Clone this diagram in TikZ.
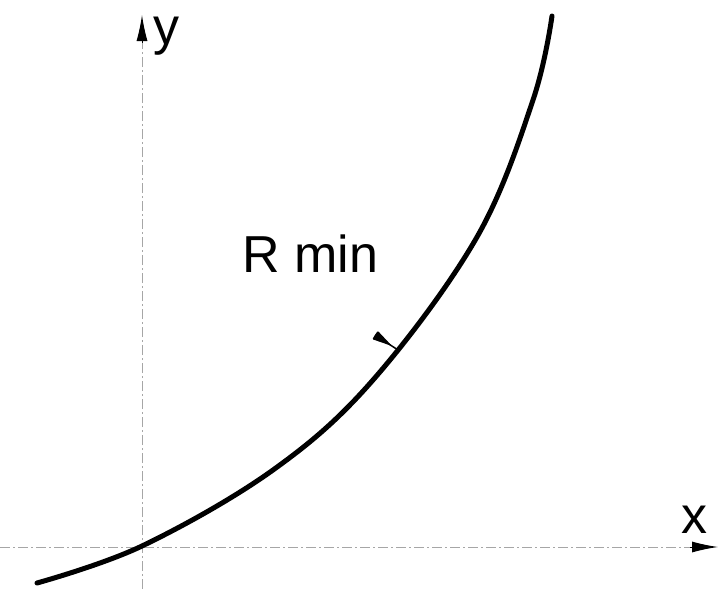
\documentclass[tikz,border=0pt]{standalone}
\usepackage{fontspec}
\setmainfont{Liberation Sans}
\usetikzlibrary{arrows.meta}
\begin{document}
\begin{tikzpicture}[x=1pt,y=-1pt,
  axisline/.style={gray!70, line width=1pt, dash pattern=on 10pt off 3pt on 2pt off 3pt},
  axisarrow/.style={-{Latex[length=26pt,width=11pt]}, black, line width=1pt},
  curveline/.style={black, line width=5pt, line cap=round, line join=round},
  lbl/.style={font=\fontsize{52}{52}\selectfont, inner sep=0pt}]
\useasboundingbox (0,0) rectangle (718,589);
\fill[white] (0,0) rectangle (718,589);
% axes
\coordinate (xs) at (0,547);
\coordinate (xe) at (690,547);
\coordinate (xt) at (718,547);
\coordinate (ys) at (142,589);
\coordinate (ye) at (142,43);
\coordinate (yt) at (142,15);
\draw[axisline] (xs) -- (xe);
\draw[axisline] (ys) -- (ye);
\draw[axisarrow] (xe) -- (xt);
\draw[axisarrow] (ye) -- (yt);
% curve
\draw[curveline] plot[smooth, tension=0.6] coordinates {(37,583) (142,546) (273,470) (373,380) (477,237) (533,100) (552,16)};
% labels
\node[lbl, anchor=base west] (xl) at (681,533) {x};
\node[lbl, anchor=base west] (yl) at (153,44) {y};
\node[lbl, anchor=base west] (rl) at (242,272) {R min};
% leader
\coordinate (lb) at (375,335);
\coordinate (lt) at (392,346);
\coordinate (lc) at (398,350);
\fill[black, rounded corners=1pt] (372.3,339.2) -- (377.7,330.8) -- (lt) -- cycle;
\draw[black, line width=1.5pt] (lb) -- (lc);
\end{tikzpicture}
\end{document}
